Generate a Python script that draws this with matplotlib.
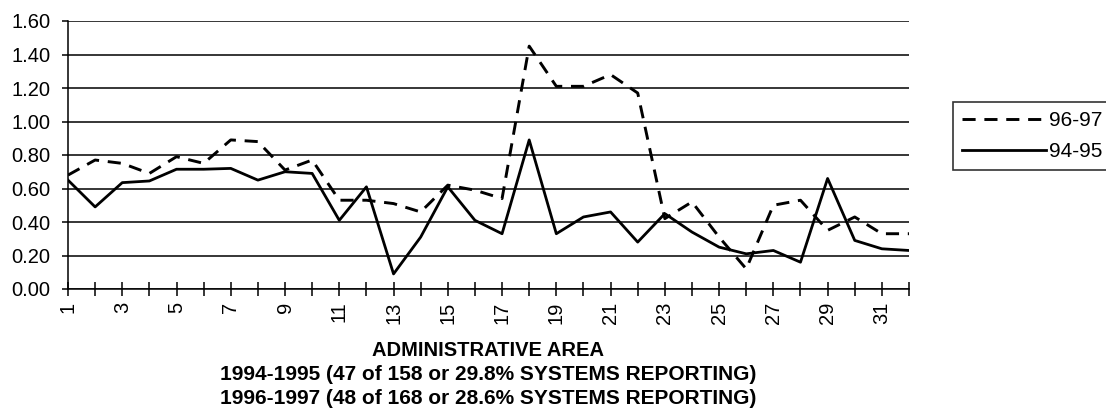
import matplotlib
matplotlib.use("Agg")
import matplotlib.pyplot as plt

areas = list(range(1, 33))
s9697 = [0.68, 0.77, 0.75, 0.69, 0.79, 0.75, 0.89, 0.88, 0.71, 0.77, 0.53, 0.53,
         0.51, 0.46, 0.62, 0.59, 0.54, 1.45, 1.21, 1.21, 1.28, 1.17, 0.42, 0.52,
         0.31, 0.12, 0.50, 0.53, 0.35, 0.43, 0.33, 0.33]
s9495 = [0.65, 0.49, 0.635, 0.645, 0.715, 0.715, 0.72, 0.65, 0.70, 0.69, 0.41, 0.61,
         0.09, 0.31, 0.61, 0.41, 0.33, 0.89, 0.33, 0.43, 0.46, 0.28, 0.45, 0.34,
         0.25, 0.21, 0.23, 0.16, 0.66, 0.29, 0.24, 0.23]
series_labels = ["96-97", "94-95"]
yticks = [0.0, 0.2, 0.4, 0.6, 0.8, 1.0, 1.2, 1.4, 1.6]
xlabel_lines = ["ADMINISTRATIVE AREA",
                "1994-1995 (47 of 158 or 29.8% SYSTEMS REPORTING)",
                "1996-1997 (48 of 168 or 28.6% SYSTEMS REPORTING)"]

plt.rcParams['font.family'] = ['Liberation Sans', 'DejaVu Sans']

fig = plt.figure(figsize=(11.06, 4.2), dpi=100)
ax = fig.add_axes([68/1106, 1-289/420, (909-68)/1106, (289-21)/420])

ax.plot(areas, s9697, color="black", lw=2.1, ls=(0, (4.5, 3)), label=series_labels[0])
ax.plot(areas, s9495, color="black", lw=2.0, ls="-", label=series_labels[1])

ax.set_xlim(1, 32)
ax.set_ylim(0, 1.6)
ax.set_yticks(yticks)
ax.set_yticklabels([f"{v:.2f}" for v in yticks], fontsize=14.5)
ax.yaxis.grid(True, color="black", lw=1.1)
ax.set_axisbelow(True)

ax.set_xticks(areas)
ax.set_xticklabels([str(a) if a % 2 == 1 else "" for a in areas], rotation=90,
                   fontsize=14.5, va="top", ha="center")
ax.tick_params(axis="x", direction="inout", length=10, width=1.1, pad=4)
ax.tick_params(axis="y", direction="out", length=4.5, width=1.1, pad=8)

for s in ["top", "right"]:
    ax.spines[s].set_visible(False)
for s in ["left", "bottom"]:
    ax.spines[s].set_linewidth(1.1)

leg = fig.legend(loc="upper left", bbox_to_anchor=(953/1106, 1-102/420),
                 frameon=True, fancybox=False, edgecolor="black", fontsize=15,
                 handlelength=4.0, handletextpad=0.15, borderpad=0.45, labelspacing=0.55,
                 borderaxespad=0)
leg.get_frame().set_linewidth(1.2)

cx = (68 + 909) / 2 / 1106
sizes = [14.5, 15, 15]
for txt, y, fs in zip(xlabel_lines, [350, 375, 399], sizes):
    fig.text(cx, 1 - y/420, txt, ha="center", va="center", fontsize=fs,
             fontweight="bold")

fig.savefig("out.png", dpi=100)
